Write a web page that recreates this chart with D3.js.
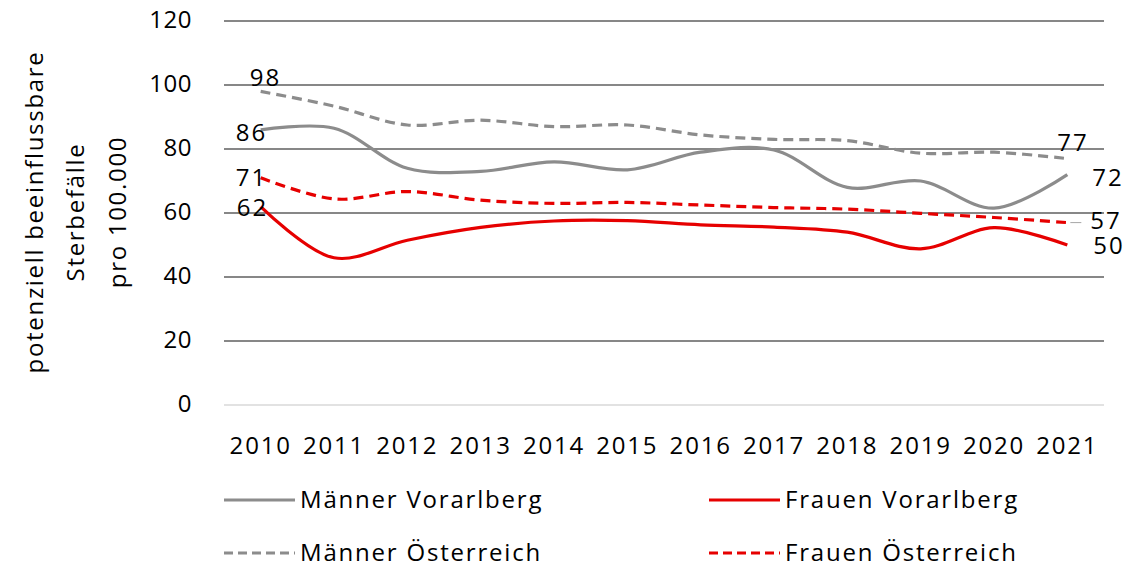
<!DOCTYPE html>
<html>
<head>
<meta charset="utf-8">
<script src="https://cdn.jsdelivr.net/npm/d3@7"></script>
<style>
  html, body { margin: 0; padding: 0; background: #fff; }
  svg text { font-family: "Open Sans", "Noto Sans", sans-serif; fill: #000; }
</style>
</head>
<body>
<svg id="chart" width="1148" height="569"></svg>
<script>
// Years on the x axis
const years = ["2010","2011","2012","2013","2014","2015","2016","2017","2018","2019","2020","2021"];

// Potentially avoidable deaths per 100,000
const maennerVorarlberg = [86, 86.5, 74, 73, 76, 73.5, 79, 79.7, 68, 70, 61.5, 72];
const frauenVorarlberg  = [62, 46, 51.5, 55.5, 57.5, 57.6, 56.3, 55.6, 54, 48.8, 55.4, 50];
const maennerOesterreich = [98, 93.4, 87.5, 89, 87, 87.5, 84.4, 83, 82.6, 78.7, 79, 77];
const frauenOesterreich  = [71, 64.4, 66.7, 64, 63, 63.3, 62.5, 61.7, 61.2, 59.9, 58.6, 57];

const yTicks = [0, 20, 40, 60, 80, 100, 120];

const series = [
  { name: "Männer Vorarlberg", values: maennerVorarlberg, color: "#8c8c8c", dash: null },
  { name: "Frauen Vorarlberg", values: frauenVorarlberg, color: "#e60000", dash: null },
  { name: "Männer Österreich", values: maennerOesterreich, color: "#8c8c8c", dash: "10,6" },
  { name: "Frauen Österreich", values: frauenOesterreich, color: "#e60000", dash: "10,6" }
];

const svg = d3.select("#chart");
const plotLeft = 224, plotRight = 1104, plotTop = 21, plotBottom = 405;

const x = d3.scalePoint().domain(years).range([plotLeft, plotRight]).padding(0.5);
const y = d3.scaleLinear().domain([0, 120]).range([plotBottom, plotTop]);

// Horizontal gridlines
svg.append("g").selectAll("line").data(yTicks).join("line")
  .attr("x1", plotLeft).attr("x2", plotRight)
  .attr("y1", d => y(d)).attr("y2", d => y(d))
  .attr("stroke", d => d === 0 ? "#d9d9d9" : "#5f5f5f")
  .attr("stroke-width", 1.4);

// Y axis tick labels
svg.append("g").selectAll("text").data(yTicks).join("text")
  .attr("x", 192).attr("y", d => y(d) - 1)
  .attr("dy", "0.35em")
  .attr("text-anchor", "end")
  .attr("font-size", 24)
  .attr("letter-spacing", 0.5)
  .text(d => d);

// X axis labels
svg.append("g").selectAll("text").data(years).join("text")
  .attr("x", d => x(d)).attr("y", 446)
  .attr("dy", "0.35em")
  .attr("text-anchor", "middle")
  .attr("font-size", 24)
  .attr("letter-spacing", 1.8)
  .text(d => d);

// Y axis title, three lines
const titleLines = ["potenziell beeinflussbare", "Sterbefälle", "pro 100.000"];
const titleX = [35, 76, 118];
titleLines.forEach((t, i) => {
  svg.append("text")
    .attr("transform", `translate(${titleX[i]},212) rotate(-90)`)
    .attr("text-anchor", "middle")
    .attr("dy", "0.35em")
    .attr("font-size", 24)
    .attr("letter-spacing", 1.7)
    .text(t);
});

// Smoothed series lines
const line = d3.line()
  .x((d, i) => x(years[i]))
  .y(d => y(d))
  .curve(d3.curveCatmullRom.alpha(0.5));

svg.append("g").selectAll("path").data(series).join("path")
  .attr("d", d => line(d.values))
  .attr("fill", "none")
  .attr("stroke", d => d.color)
  .attr("stroke-width", 3.2)
  .attr("stroke-dasharray", d => d.dash);

// Value labels at the first and last year
const first = years[0], last = years[years.length - 1];
const startLabels = [
  { v: maennerOesterreich[0], dx: -11, dy: -14 },
  { v: maennerVorarlberg[0], dx: -25, dy: 3 },
  { v: frauenOesterreich[0], dx: -25, dy: 0 },
  { v: frauenVorarlberg[0], dx: -24, dy: 1 }
];
const endLabels = [
  { v: maennerOesterreich[11], dx: -10, dy: -16 },
  { v: maennerVorarlberg[11], dx: 25, dy: 3 },
  { v: frauenOesterreich[11], dx: 23, dy: -2 },
  { v: frauenVorarlberg[11], dx: 26, dy: 1 }
];
const valueLabels = startLabels.map(d => ({ ...d, year: first }))
  .concat(endLabels.map(d => ({ ...d, year: last })));

svg.append("g").selectAll("text").data(valueLabels).join("text")
  .attr("x", d => x(d.year) + d.dx).attr("y", d => y(d.v) + d.dy)
  .attr("dy", "0.35em")
  .attr("font-size", 24)
  .attr("letter-spacing", 2)
  .text(d => Math.round(d.v));

// Leader line for the Frauen Österreich end label
svg.append("line")
  .attr("x1", x(last) + 3).attr("x2", x(last) + 14)
  .attr("y1", y(frauenOesterreich[11])).attr("y2", y(frauenOesterreich[11]))
  .attr("stroke", "#a6a6a6").attr("stroke-width", 1);

// Legend
const legendPos = [
  { x: 224, y: 500 }, { x: 709, y: 500 },
  { x: 224, y: 553 }, { x: 709, y: 553 }
];
const lg = svg.append("g").selectAll("g").data(series).join("g")
  .attr("transform", (d, i) => `translate(${legendPos[i].x},${legendPos[i].y})`);
lg.append("line")
  .attr("x1", 0).attr("x2", 71).attr("y1", 0).attr("y2", 0)
  .attr("stroke", d => d.color).attr("stroke-width", 3.2)
  .attr("stroke-dasharray", d => d.dash ? "9,5" : null);
lg.append("text")
  .attr("x", 76).attr("y", 0).attr("dy", "0.35em")
  .attr("font-size", 24)
  .attr("letter-spacing", 1.8)
  .text(d => d.name);
</script>
</body>
</html>
